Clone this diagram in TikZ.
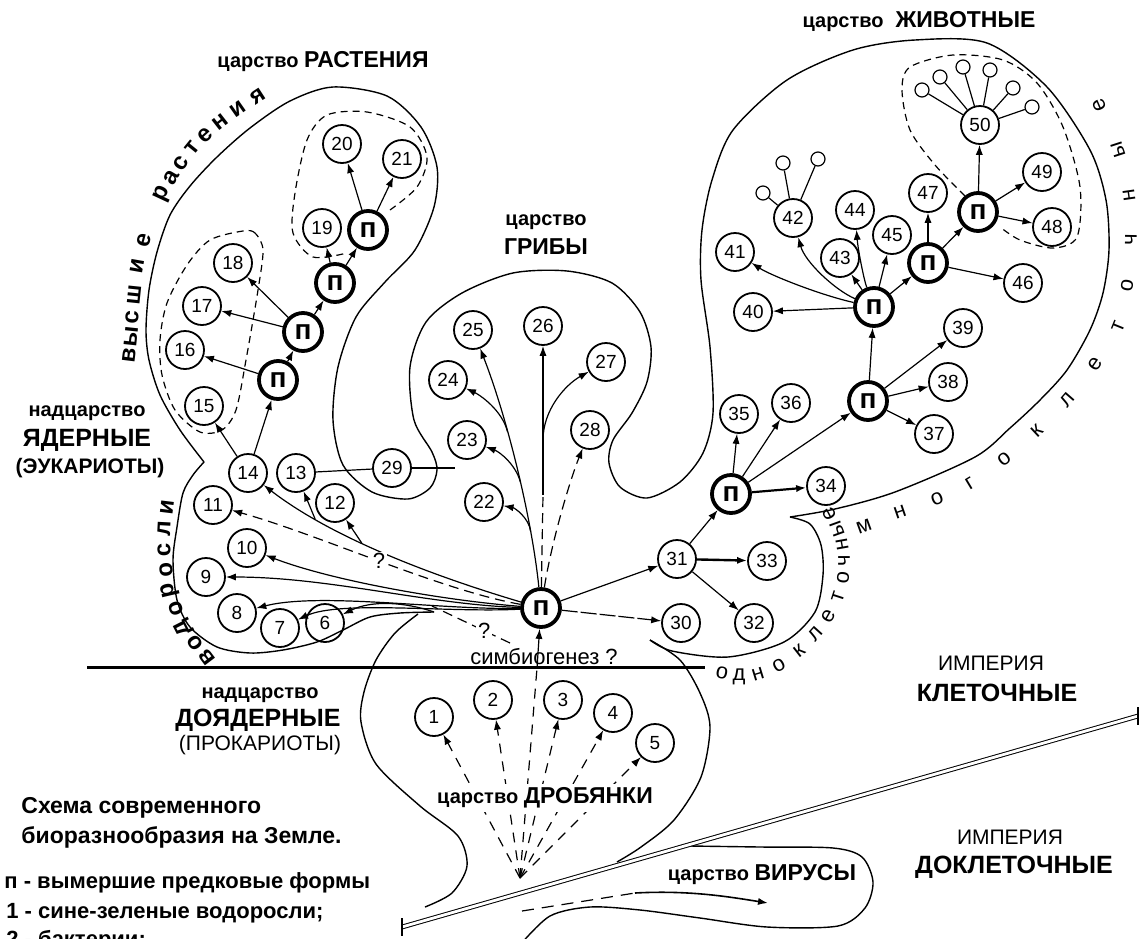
\documentclass[tikz,border=0pt]{standalone}
\usepackage{fontspec}
\setmainfont{Liberation Sans}
\usetikzlibrary{arrows.meta}
\newcommand{\fz}[1]{\fontsize{#1}{#1}\selectfont}
\begin{document}
\begin{tikzpicture}[x=0.5pt,y=-0.5pt,
 numc/.style={circle,draw,line width=0.9pt,minimum size=19pt,inner sep=0pt,font=\fz{9.5}},
 ancc/.style={circle,draw,line width=1.9pt,minimum size=19pt,inner sep=0pt,font=\bfseries\fz{14}},
 smc/.style={circle,draw,line width=0.6pt,minimum size=7pt,inner sep=0pt},
 arr/.style={-{Latex[length=5pt,width=3.6pt]},line width=0.6pt},
 ln/.style={line width=0.6pt},
 dsh/.style={dash pattern=on 5pt off 3pt},
 dshp/.style={dash pattern=on 5pt off 4pt},
 encl/.style={line width=0.6pt,dash pattern=on 3.5pt off 2.5pt},
 outl/.style={line width=0.7pt},
 txt/.style={inner sep=0pt,font=\bfseries\fz{10}},
 legd/.style={inner sep=0pt,anchor=west,font=\bfseries\fz{11}},
 curvb/.style={inner sep=0pt,font=\bfseries\fz{12}},
 curvr/.style={inner sep=0pt,font=\fz{11}}
]
\useasboundingbox (0,0) rectangle (1141,938);
\fill[white] (0,0) rectangle (1141,938);
\clip (0,0) rectangle (1141,938);

% ---------- outlines ----------
\draw[outl] plot[smooth] coordinates {(434,612) (400,613) (370,617) (343,630) (317,642) (283,650) (250,653) (217,647) (190,627) (177,600) (173,560) (177,527) (183,493) (193,475) (204,462)};
\draw[outl] plot[smooth] coordinates {(204,462) (180,430) (160,395) (149,360) (146,330) (149,290) (157,252) (170,215) (190,186) (217,157) (250,128) (290,101) (333,87) (387,96) (421,127) (437,167) (434,207) (415,250) (385,282) (356,317) (338,367) (333,420) (343,465) (372,492) (408,499) (430,488) (437,470) (432,452) (414,420) (410,367) (426,322) (462,293) (513,273) (567,271) (612,283) (640,312) (651,347) (647,382) (632,413) (613,440) (609,463) (620,487) (647,498) (680,482) (703,453) (713,413) (710,347) (701,280) (702,230) (712,180) (733,130) (787,80) (853,50) (915,40) (987,43) (1047,87) (1090,150) (1106,200) (1109,250) (1103,293) (1090,330) (1067,370) (1040,400) (1010,428) (975,457) (895,492) (835,509) (790,517)};
\draw[outl] plot[smooth] coordinates {(790,517) (810,524) (821,545) (823,575) (815,612) (784,642) (728,657) (672,651) (650,640)};
\draw[outl] plot[smooth] coordinates {(650,640) (680,660) (700,693) (710,727) (701,777) (674,820) (641,847) (617,862)};
\draw[outl] plot[smooth] coordinates {(418,614) (395,633) (376,660) (364,692) (361,722) (376,764) (420,806) (458,836) (467,866) (452,893) (425,907)};
\draw[outl] plot[smooth] coordinates {(690,846) (760,847) (833,848) (862,857) (873,882) (865,908) (838,926) (767,927) (700,918) (640,910) (590,907) (550,916) (520,945)};

% dashed enclosures
\draw[encl] plot[smooth] coordinates {(390,210) (417,187) (427,157) (410,127) (367,112) (327,115) (307,140) (295,193) (293,233) (313,257) (347,253)};
\draw[encl] plot[smooth cycle] coordinates {(263,250) (255,233) (243,231) (210,240) (187,265) (167,303) (160,340) (162,375) (175,410) (200,432) (222,430) (236,410) (246,360) (258,290)};
\draw[encl] plot[smooth] coordinates {(965,196) (935,165) (910,130) (902,90) (910,67) (953,55) (1003,60) (1037,83) (1063,127) (1080,187) (1077,237) (1053,248) (1020,240) (1000,227)};

% empire boundary and superkingdom line
\coordinate (dl1) at (402,927);
\coordinate (dl2) at (1138,716);
\draw[line width=0.5pt,double,double distance=1.4pt] (dl1) -- (dl2);
\draw[line width=0.8pt] (402,918) -- (402,936);
\draw[line width=0.8pt] (1138,707) -- (1138,725);
\coordinate (hl1) at (87,667);
\coordinate (hl2) at (705,667);
\draw[line width=1.5pt] (hl1) -- (hl2);

% ---------- nodes ----------
\node[numc] (n20) at (342,144) {20};
\node[numc] (n21) at (402,159) {21};
\node[numc] (n19) at (322,228) {19};
\node[ancc] (pA3) at (368,230) {п};
\node[ancc] (pA2) at (335,283) {п};
\node[numc] (n18) at (233,263) {18};
\node[numc] (n17) at (202,306) {17};
\node[ancc] (pA1) at (303,332) {п};
\node[numc] (n16) at (185,350) {16};
\node[ancc] (pA0) at (278,380) {п};
\node[numc] (n15) at (204,406) {15};
\node[numc] (n14) at (248,473) {14};
\node[numc] (n13) at (296,473) {13};
\node[numc] (n12) at (335,503) {12};
\node[numc] (n11) at (213,505) {11};
\node[numc] (n10) at (247,548) {10};
\node[numc] (n9) at (206,577) {9};
\node[numc] (n8) at (237,613) {8};
\node[numc] (n7) at (280,628) {7};
\node[numc] (n6) at (325,623) {6};
\node[numc] (n29) at (392,468) {29};
\node[numc] (n25) at (473,330) {25};
\node[numc] (n26) at (543,326) {26};
\node[numc] (n27) at (606,362) {27};
\node[numc] (n24) at (448,380) {24};
\node[numc] (n28) at (590,430) {28};
\node[numc] (n23) at (467,440) {23};
\node[numc] (n22) at (484,502) {22};
\node[ancc] (c) at (541,608) {п};
\node[numc] (n30) at (681,623) {30};
\node[numc] (n31) at (677,559) {31};
\node[numc] (n33) at (767,561) {33};
\node[numc] (n32) at (754,623) {32};
\node[ancc] (aA0) at (731,494) {п};
\node[numc] (n34) at (826,486) {34};
\node[numc] (n35) at (739,414) {35};
\node[numc] (n36) at (791,403) {36};
\node[ancc] (aA1) at (868,401) {п};
\node[numc] (n39) at (963,328) {39};
\node[numc] (n38) at (948,382) {38};
\node[numc] (n37) at (934,434) {37};
\node[ancc] (aA2) at (874,307) {п};
\node[numc] (n40) at (753,312) {40};
\node[numc] (n41) at (735,252) {41};
\node[numc] (n42) at (793,218) {42};
\node[numc] (n43) at (840,258) {43};
\node[numc] (n44) at (855,210) {44};
\node[numc] (n45) at (892,235) {45};
\node[ancc] (aA3) at (928,263) {п};
\node[numc] (n46) at (1023,283) {46};
\node[numc] (n47) at (928,193) {47};
\node[ancc] (aA4) at (978,212) {п};
\node[numc] (n49) at (1042,172) {49};
\node[numc] (n48) at (1052,227) {48};
\node[numc] (n50) at (980,125) {50};
\node[smc] (s1) at (922,90) {};
\node[smc] (s2) at (940,77) {};
\node[smc] (s3) at (963,67) {};
\node[smc] (s4) at (990,70) {};
\node[smc] (s5) at (1013,88) {};
\node[smc] (s6) at (1032,107) {};
\node[smc] (k1) at (763,193) {};
\node[smc] (k2) at (783,163) {};
\node[smc] (k3) at (818,159) {};
\node[numc] (n1) at (434,717) {1};
\node[numc] (n2) at (493,700) {2};
\node[numc] (n3) at (563,700) {3};
\node[numc] (n4) at (613,713) {4};
\node[numc] (n5) at (655,743) {5};

% ---------- plant connectors ----------
\draw[arr] (n14) -- (pA0);
\draw[arr] (n14) -- (n15);
\draw[arr] (pA0) -- (pA1);
\draw[arr] (pA0) -- (n16);
\draw[arr] (pA1) -- (pA2);
\draw[arr] (pA1) -- (n17);
\draw[arr] (pA1) -- (n18);
\draw[arr] (pA2) -- (pA3);
\draw[arr] (pA2) -- (n19);
\draw[arr] (pA3) -- (n20);
\draw[arr] (pA3) -- (n21);
\draw[ln] (n13) -- (n29);
\coordinate (e29) at (455,468);
\draw[ln] (n29) -- (e29);

% ---------- algae connectors ----------
\draw[arr] (c) .. controls (440,578) and (335,540) .. (n14) coordinate[pos=0.6] (b12) coordinate[pos=0.78] (b13);
\draw[arr] (b12) -- (n12);
\draw[arr] (b13) -- (n13);
\draw[arr,dsh] (c) .. controls (440,590) and (320,535) .. (n11) node[pos=0.5,fill=white,inner sep=1pt,font=\fz{11}] (q1) {?};
\draw[arr] (c) .. controls (440,600) and (330,580) .. (n10);
\draw[arr] (c) .. controls (430,605) and (330,577) .. (n9);
\draw[arr] (c) .. controls (440,610) and (320,592) .. (n8);
\draw[arr] (c) .. controls (450,613) and (340,600) .. (n7);
\coordinate (tip) at (434,612);
\draw[arr] (tip) .. controls (405,602) and (372,600) .. (n6);
\coordinate (qa) at (510,643);
\coordinate (qb) at (432,606);
\draw[ln,dsh] (qa) -- (qb) node[pos=0.33,fill=white,inner sep=1pt,font=\fz{11}] (q2) {?};

% ---------- fungi connectors ----------
\draw[arr] (c) .. controls (532,520) and (508,420) .. (n25) coordinate[pos=0.25] (b22) coordinate[pos=0.45] (b23) coordinate[pos=0.65] (b24);
\draw[arr] (b22) .. controls (529,518) and (515,508) .. (n22);
\draw[arr] (b23) .. controls (516,465) and (500,452) .. (n23);
\draw[arr] (b24) .. controls (502,410) and (480,395) .. (n24);
\coordinate (b26) at (543,495);
\coordinate (b27) at (543,440);
\draw[ln,dsh] (c) -- (b26);
\draw[arr] (b26) -- (n26);
\draw[arr] (b27) .. controls (543,410) and (565,385) .. (n27);
\draw[arr,dsh] (c) .. controls (552,540) and (570,480) .. (n28);

% ---------- animal connectors ----------
\draw[arr] (c) -- (n31);
\draw[arr,dash pattern=on 8pt off 1.5pt] (c) -- (n30);
\draw[arr] (n31) -- (aA0);
\draw[arr,line width=1.2pt] (n31) -- (n33);
\draw[arr] (n31) -- (n32);
\draw[arr] (aA0) -- (n35);
\draw[arr] (aA0) -- (n36);
\draw[arr,line width=1.1pt] (aA0) -- (n34);
\draw[arr] (aA0) -- (aA1);
\draw[arr] (aA1) -- (n39);
\draw[arr] (aA1) -- (n38);
\draw[arr] (aA1) -- (n37);
\draw[arr] (aA1) -- (aA2);
\draw[arr] (aA2) -- (n40);
\draw[arr] (aA2) .. controls (820,295) and (770,275) .. (n41);
\draw[arr] (aA2) .. controls (835,290) and (805,262) .. (n42);
\draw[arr] (aA2) -- (n43);
\draw[arr] (aA2) .. controls (864,280) and (858,250) .. (n44);
\draw[arr] (aA2) -- (n45);
\draw[arr] (aA2) -- (aA3);
\draw[arr] (aA3) -- (n46);
\draw[arr] (aA3) -- (aA4);
\draw[arr] (aA3) -- (n47);
\draw[arr] (aA4) -- (n50);
\draw[arr] (aA4) -- (n49);
\draw[arr] (aA4) -- (n48);
\foreach \s in {s1,s2,s3,s4,s5,s6} \draw[ln] (n50) -- (\s);
\foreach \s in {k1,k2,k3} \draw[ln] (n42) -- (\s);

% ---------- prokaryotes ----------
\coordinate (o) at (520,878);
\coordinate (sy) at (537,668);
\foreach \t in {n1,n2,n3,n4,n5} \draw[arr,dshp] (o) -- (\t);
\draw[ln,dshp] (o) -- (sy);
\draw[arr] (sy) -- (c);

% virus arrow
\coordinate (v1) at (522,911);
\coordinate (v2) at (635,893);
\coordinate (v3) at (768,903);
\draw[ln,dash pattern=on 6pt off 4pt] (v1) -- (v2);
\draw[arr,line width=0.8pt] (v2) .. controls (690,890) and (730,897) .. (v3);

% ---------- labels ----------
\node[txt] (tR) at (323,62) {царство \fz{11.5}РАСТЕНИЯ};
\node[txt] (tJ) at (919,22) {царство\hspace{6pt}\fz{11.5}ЖИВОТНЫЕ};
\node[txt] (tG1) at (546,222) {царство};
\node[txt,font=\bfseries\fz{11.5}] (tG2) at (546,247) {ГРИБЫ};
\node[txt] (tN1) at (87,413) {надцарство};
\node[txt,font=\bfseries\fz{12.5}] (tN2) at (87,440) {ЯДЕРНЫЕ};
\node[txt,font=\bfseries\fz{10.5}] (tN3) at (90,468) {(ЭУКАРИОТЫ)};
\node[txt] (tD1) at (260,695) {надцарство};
\node[txt,font=\bfseries\fz{12.5}] (tD2) at (258,720) {ДОЯДЕРНЫЕ};
\node[txt,font=\fz{10.5}] (tD3) at (260,745) {(ПРОКАРИОТЫ)};
\node[txt,font=\fz{11}] (tS) at (544,657) {симбиогенез ?};
\node[txt,fill=white,inner sep=2pt] (tDr) at (545,798) {царство \fz{11.5}ДРОБЯНКИ};
\node[txt] (tV) at (762,875) {царство \fz{11.5}ВИРУСЫ};
\node[txt,font=\fz{10.5}] (tE1) at (991,663) {ИМПЕРИЯ};
\node[txt,font=\bfseries\fz{12.5}] (tE2) at (997,693) {КЛЕТОЧНЫЕ};
\node[txt,font=\fz{10.5}] (tE3) at (1010,837) {ИМПЕРИЯ};
\node[txt,font=\bfseries\fz{12.5}] (tE4) at (1014,867) {ДОКЛЕТОЧНЫЕ};
\node[legd,font=\bfseries\fz{11.5}] (lg1) at (21,808) {Схема современного};
\node[legd,font=\bfseries\fz{11.5}] (lg2) at (21,837) {биоразнообразия на Земле.};
\node[legd] (lg3) at (4,883) {п - вымершие предковые формы};
\node[legd] (lg4) at (6,913) {1 - сине-зеленые водоросли;};
\node[legd] (lg5) at (6,941) {2 - бактерии;};

% ---------- text along curves (letter by letter) ----------
\foreach \x/\y/\a/\l [count=\i] in {129/355/83/в,131/337/84/ы,132/317/86/с,134/295/84/ш,137/266/80/и,144/240/75/е,
  163/194/65/р,171/178/60/а,181/163/56/с,192/148/51/т,205/135/42/е,220/122/38/н,238/109/35/и,258/96/33/я}
  \node[curvb,rotate=\a] (hv\i) at (\x,\y) {\l};
\foreach \x/\y/\a/\l [count=\i] in {207/657/127/в,195/643/124/о,184/627/117/д,176/609/109/о,170/590/103/р,166/570/96/о,164/550/92/с,164/529/87/л,167/507/83/и}
  \node[curvb,rotate=\a] (wd\i) at (\x,\y) {\l};
\foreach \x/\y/\a/\l [count=\i] in {722/673/-11/о,739/677/0/д,758/674/17/н,779/665/29/о,799/651/38/к,816/634/48/л,829/616/60/е,838/597/72/т,843/578/83/о,844/561/90/ч,842/545/100/н,837/529/110/ы,829/514/118/е}
  \node[curvr,rotate=\a] (od\i) at (\x,\y) {\l};
\foreach \x/\y/\a/\l [count=\i] in {864/526/20/м,900/512/19/н,937/499/22/о,970/483/31/г,1004/459/38/о,1037/431/43/к,1067/400/49/л,1095/364/55/е,1118/327/68/т,1127/286/81/о,1131/240/89/ч,1129/195/98/н,1118/150/108/ы,1099/105/113/е}
  \node[curvr,rotate=\a] (mn\i) at (\x,\y) {\l};
\end{tikzpicture}
\end{document}
